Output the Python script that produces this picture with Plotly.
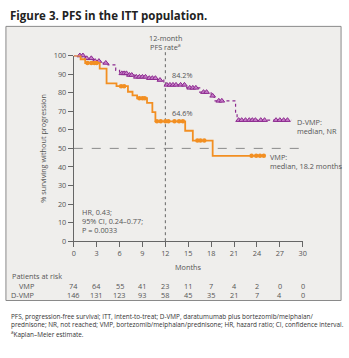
import numpy as np
import plotly.graph_objects as go

W, H = 349, 358
# ---- data ----
months_ticks = [0, 3, 6, 9, 12, 15, 18, 21, 24, 27, 30]
y_ticks = [0, 10, 20, 30, 40, 50, 60, 70, 80, 90, 100]
risk_vmp = [74, 64, 55, 41, 23, 11, 7, 4, 2, 0, 0]
risk_dvmp = [146, 131, 123, 93, 58, 45, 35, 21, 7, 4, 0]

vmp_t = [0, 0.9, 1.5, 3.4, 4.3, 5.6, 7.1, 7.7, 8.3, 9.6, 10.3, 10.7, 14.6, 15.6, 18.2, 24.9]
vmp_s = [100, 98, 96, 93, 85, 83.5, 80.5, 78.5, 77, 74.5, 69.5, 64.6, 59.5, 54.2, 46, 46]
vmp_cens = [1.8, 2.3, 2.7, 3.0, 6.2, 6.6, 8.6, 9.0, 9.3, 10.9, 11.4, 12.0, 12.4, 13.2, 13.8, 14.3,
            16.2, 16.6, 17.1, 23.3, 23.9, 24.4, 24.9]

dvmp_t = [0, 1.5, 2.5, 3.5, 4.5, 5.5, 6.0, 7.0, 8.0, 9.5, 11.0, 11.8, 14.8, 16.5, 18.0, 18.4, 21.2, 21.4, 28.5]
dvmp_s = [100, 98.5, 97, 96, 95, 92, 90.4, 89.5, 88.5, 87.8, 86.8, 84.2, 82.6, 80.3, 78.3, 75.6, 68.6, 65.2, 65.2]
dvmp_cens = [0.8, 1.2, 1.7, 2.3, 2.8, 3.3, 4.2, 6.3, 6.6, 6.9, 7.3, 7.6, 8.2, 8.6, 9.0, 9.4, 9.9, 10.3,
             10.7, 11.3, 12.2, 12.6, 13.0, 13.4, 14.0, 14.5, 15.2, 15.6, 16.0, 17.0, 17.4, 18.2,
             19.0, 19.4, 21.6, 22.0, 22.5, 23.0, 23.4, 23.8, 24.5, 25.0, 26.5, 27.0, 27.5, 28.0]

ORANGE = "#f28f22"
PURPLE = "#8c2a8e"
TXT = "#555555"
FONT = "Open Sans"

def step_eval(t, s, x):
    idx = np.searchsorted(np.array(t), np.array(x), side="right") - 1
    return [float(v) for v in np.array(s)[idx]]

# ---- layout geometry (pixels) ----
L, R, T, B = 73, 43, 52, 115

def px(x):
    return x / W

def py(y):
    return 1 - y / H

fig = go.Figure()
fig.add_trace(go.Scatter(x=dvmp_t, y=dvmp_s, mode="lines", line=dict(color=PURPLE, width=1.2, dash="dot", shape="hv"),
                         hoverinfo="skip", cliponaxis=False))
fig.add_trace(go.Scatter(x=dvmp_cens, y=step_eval(dvmp_t, dvmp_s, dvmp_cens), mode="markers",
                         marker=dict(symbol="triangle-up", size=5, color="#c77dc9", line=dict(color=PURPLE, width=1)),
                         cliponaxis=False))
fig.add_trace(go.Scatter(x=vmp_t, y=vmp_s, mode="lines", line=dict(color=ORANGE, width=1.8, shape="hv"),
                         cliponaxis=False))
fig.add_trace(go.Scatter(x=vmp_cens, y=step_eval(vmp_t, vmp_s, vmp_cens), mode="markers",
                         marker=dict(symbol="circle", size=4.5, color=ORANGE), cliponaxis=False))

fig.add_shape(type="rect", xref="paper", yref="paper", x0=px(4), x1=px(345), y0=py(22), y1=py(304),
              fillcolor="#efeeec", line=dict(color="#8a8a8a", width=1), layer="below")
fig.add_shape(type="line", xref="x", yref="y", x0=0, x1=30, y0=50, y1=50,
              line=dict(color="#8a8a8a", width=1, dash="dash"), layer="below")
fig.add_shape(type="line", xref="x", yref="paper", x0=12, x1=12, y0=py(243), y1=py(48),
              line=dict(color="#666666", width=1, dash="dot"), layer="below")

def txt(x, y, s, size=7.3, anchor="left", color=TXT, xref="paper", yref="paper"):
    fig.add_annotation(x=x, y=y, xref=xref, yref=yref, text=s, showarrow=False, xanchor=anchor,
                       yanchor="middle", font=dict(size=size, color=color, family=FONT))

txt(px(6), py(11), "<b>Figure 3. PFS in the ITT population.</b>", size=11.5, color="#222222")
txt(12, py(34), "12-month", anchor="center", xref="x")
txt(12, py(43), "PFS rate<sup>a</sup>", anchor="center", xref="x")
txt(12.6, 84.2 + 5.5, "84.2%", xref="x", yref="y")
txt(12.6, 64.6 + 4.5, "64.6%", xref="x", yref="y")
txt(px(298), py(120), "D-VMP:")
txt(px(298), py(130), "median, NR")
txt(px(271), py(156), "VMP:")
txt(px(271), py(166), "median, 18.2 months")
txt(px(79), py(213), "HR, 0.43;")
txt(px(79), py(222), "95% CI, 0.24–0.77;")
txt(px(79), py(231), "P = 0.0033")
txt(px(190), py(270), "Months", anchor="center")
txt(px(8), py(279), "Patients at risk")
txt(px(36), py(289), "VMP", anchor="right")
txt(px(36), py(298), "D-VMP", anchor="right")
for m, a, b in zip(months_ticks, risk_vmp, risk_dvmp):
    txt(m, py(289), str(a), anchor="center", xref="x")
    txt(m, py(298), str(b), anchor="center", xref="x")
txt(px(7), py(320), "PFS, progression-free survival; ITT, intent-to-treat; D-VMP, daratumumab plus bortezomib/melphalan/",
    size=6.4, color="#333333")
txt(px(7), py(329), "prednisone; NR, not reached; VMP, bortezomib/melphalan/prednisone; HR, hazard ratio; CI, confidence interval.",
    size=6.4, color="#333333")
txt(px(7), py(338), "<sup>a</sup>Kaplan–Meier estimate.", size=6.4, color="#333333")

fig.update_layout(
    width=W, height=H, margin=dict(l=0, r=0, t=0, b=0),
    paper_bgcolor="white", plot_bgcolor="rgba(0,0,0,0)", showlegend=False,
    font=dict(family=FONT, color=TXT, size=7.3),
)
fig.update_xaxes(range=[0, 30], domain=[L / W, (W - R) / W], tickvals=months_ticks, showgrid=False,
                 zeroline=False, showline=True,
                 linecolor="#666666", linewidth=1, ticks="outside", ticklen=5, tickcolor="#666666",
                 tickfont=dict(size=7.3, color=TXT))
fig.update_yaxes(range=[0, 100], domain=[B / H, (H - T) / H], tickvals=y_ticks, showgrid=False,
                 zeroline=False, showline=True,
                 linecolor="#666666", linewidth=1, ticks="outside", ticklen=5, tickcolor="#666666",
                 tickfont=dict(size=7.3, color=TXT), title=dict(text="% surviving without progression",
                 font=dict(size=7.3, color=TXT), standoff=6))

fig.write_html("out.html")
